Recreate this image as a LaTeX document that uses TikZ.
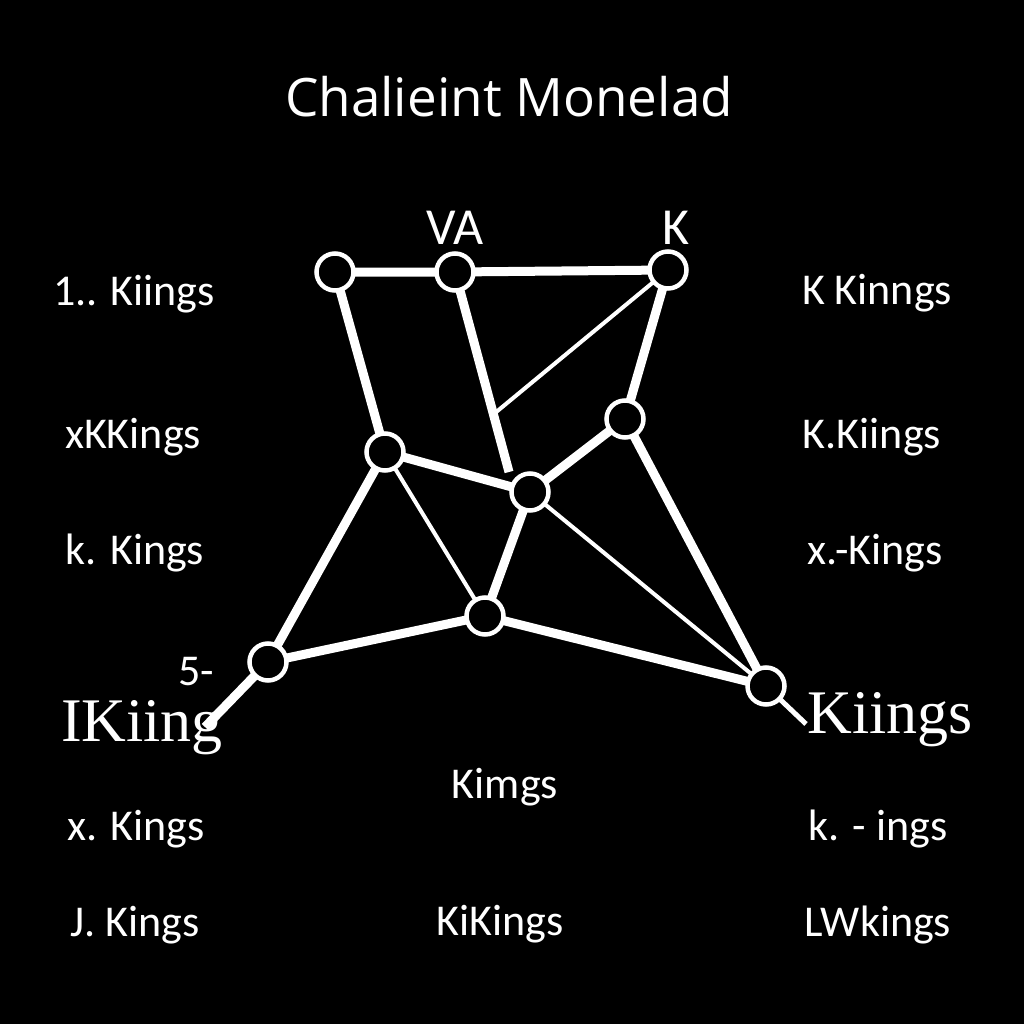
\documentclass[tikz,border=0pt]{standalone}
\usepackage{fontspec}
\setmainfont{Liberation Serif}
\newfontfamily\titlefont{Open Sans}
\newfontfamily\labfont{Carlito}
\begin{document}
\begin{tikzpicture}[x=1pt,y=-1pt,
  vert/.style={circle,draw=white,fill=black,line width=4.5pt,minimum size=37pt,inner sep=0pt},
  thickedge/.style={draw=white,line width=9pt},
  thinedge/.style={draw=white,line width=4pt},
  lab/.style={text=white,font=\labfont\fontsize{44}{44}\selectfont,inner sep=0pt},
  serifl/.style={text=white,font=\fontsize{62}{62}\selectfont,inner sep=0pt},
  toplab/.style={text=white,font=\titlefont\fontsize{53}{53}\selectfont,inner sep=0pt}]
\fill[black] (0,0) rectangle (1024,1024);
\useasboundingbox (0,0) rectangle (1024,1024);
% title
\node[toplab] (title) at (509,97) {Chalieint Monelad};
% coordinates
\coordinate (p1) at (335,272);
\coordinate (p2) at (455,272);
\coordinate (p3) at (668,270);
\coordinate (p4) at (625,419);
\coordinate (p5) at (385,452);
\coordinate (p6) at (530,492);
\coordinate (p7) at (485,616);
\coordinate (p8) at (268,662);
\coordinate (p9) at (766,686);
\coordinate (e2) at (509,472);
\coordinate (e3) at (495,413);
\coordinate (e8) at (205,727);
\coordinate (e9) at (806,724);
% edges
\path[thickedge] (p1) -- (p2) (p2) -- (p3) (p1) -- (p5) (p2) -- (e2)
  (p3) -- (p4) (p4) -- (p6) (p4) -- (p9) (p5) -- (p6) (p5) -- (p8)
  (p6) -- (p7) (p7) -- (p8) (p7) -- (p9) (p8) -- (e8);
\path[thinedge] (p3) -- (e3) (p5) -- (p7) (p6) -- (p9);
\path[draw=white,line width=5pt] (p9) -- (e9);
% vertices
\foreach \i in {1,...,9} \node[vert] (n\i) at (p\i) {};
% top labels
\node[lab,font=\labfont\fontsize{52}{52}\selectfont] (va) at (455,228) {VA};
\node[lab,font=\labfont\fontsize{52}{52}\selectfont] (k) at (676,228) {K};
% left column
\node[lab] (l1) at (134,294) {1.. Kiings};
\node[lab] (l2) at (133,437) {xKKings};
\node[lab] (l3) at (135,553) {k. Kings};
\node[lab] (l4) at (136,829) {x. Kings};
\node[lab] (l5) at (135,925) {J. Kings};
% right column
\node[lab] (r1) at (877,293) {K Kinngs};
\node[lab] (r2) at (872,437) {K.Kiings};
\node[lab] (r3) at (875,553) {x.-Kings};
\node[lab] (r4) at (878,829) {k. - ings};
\node[lab] (r5) at (878,925) {LWkings};
% middle
\node[lab] (m1) at (505,787) {Kimgs};
\node[lab] (m2) at (500,924) {KiKings};
% serif big labels
\node[lab] (five) at (196,672) {5-};
\node[serifl] (big1) at (142,728) {IKiing};
\node[serifl] (big2) at (890,720) {Kiings};
\end{tikzpicture}
\end{document}
